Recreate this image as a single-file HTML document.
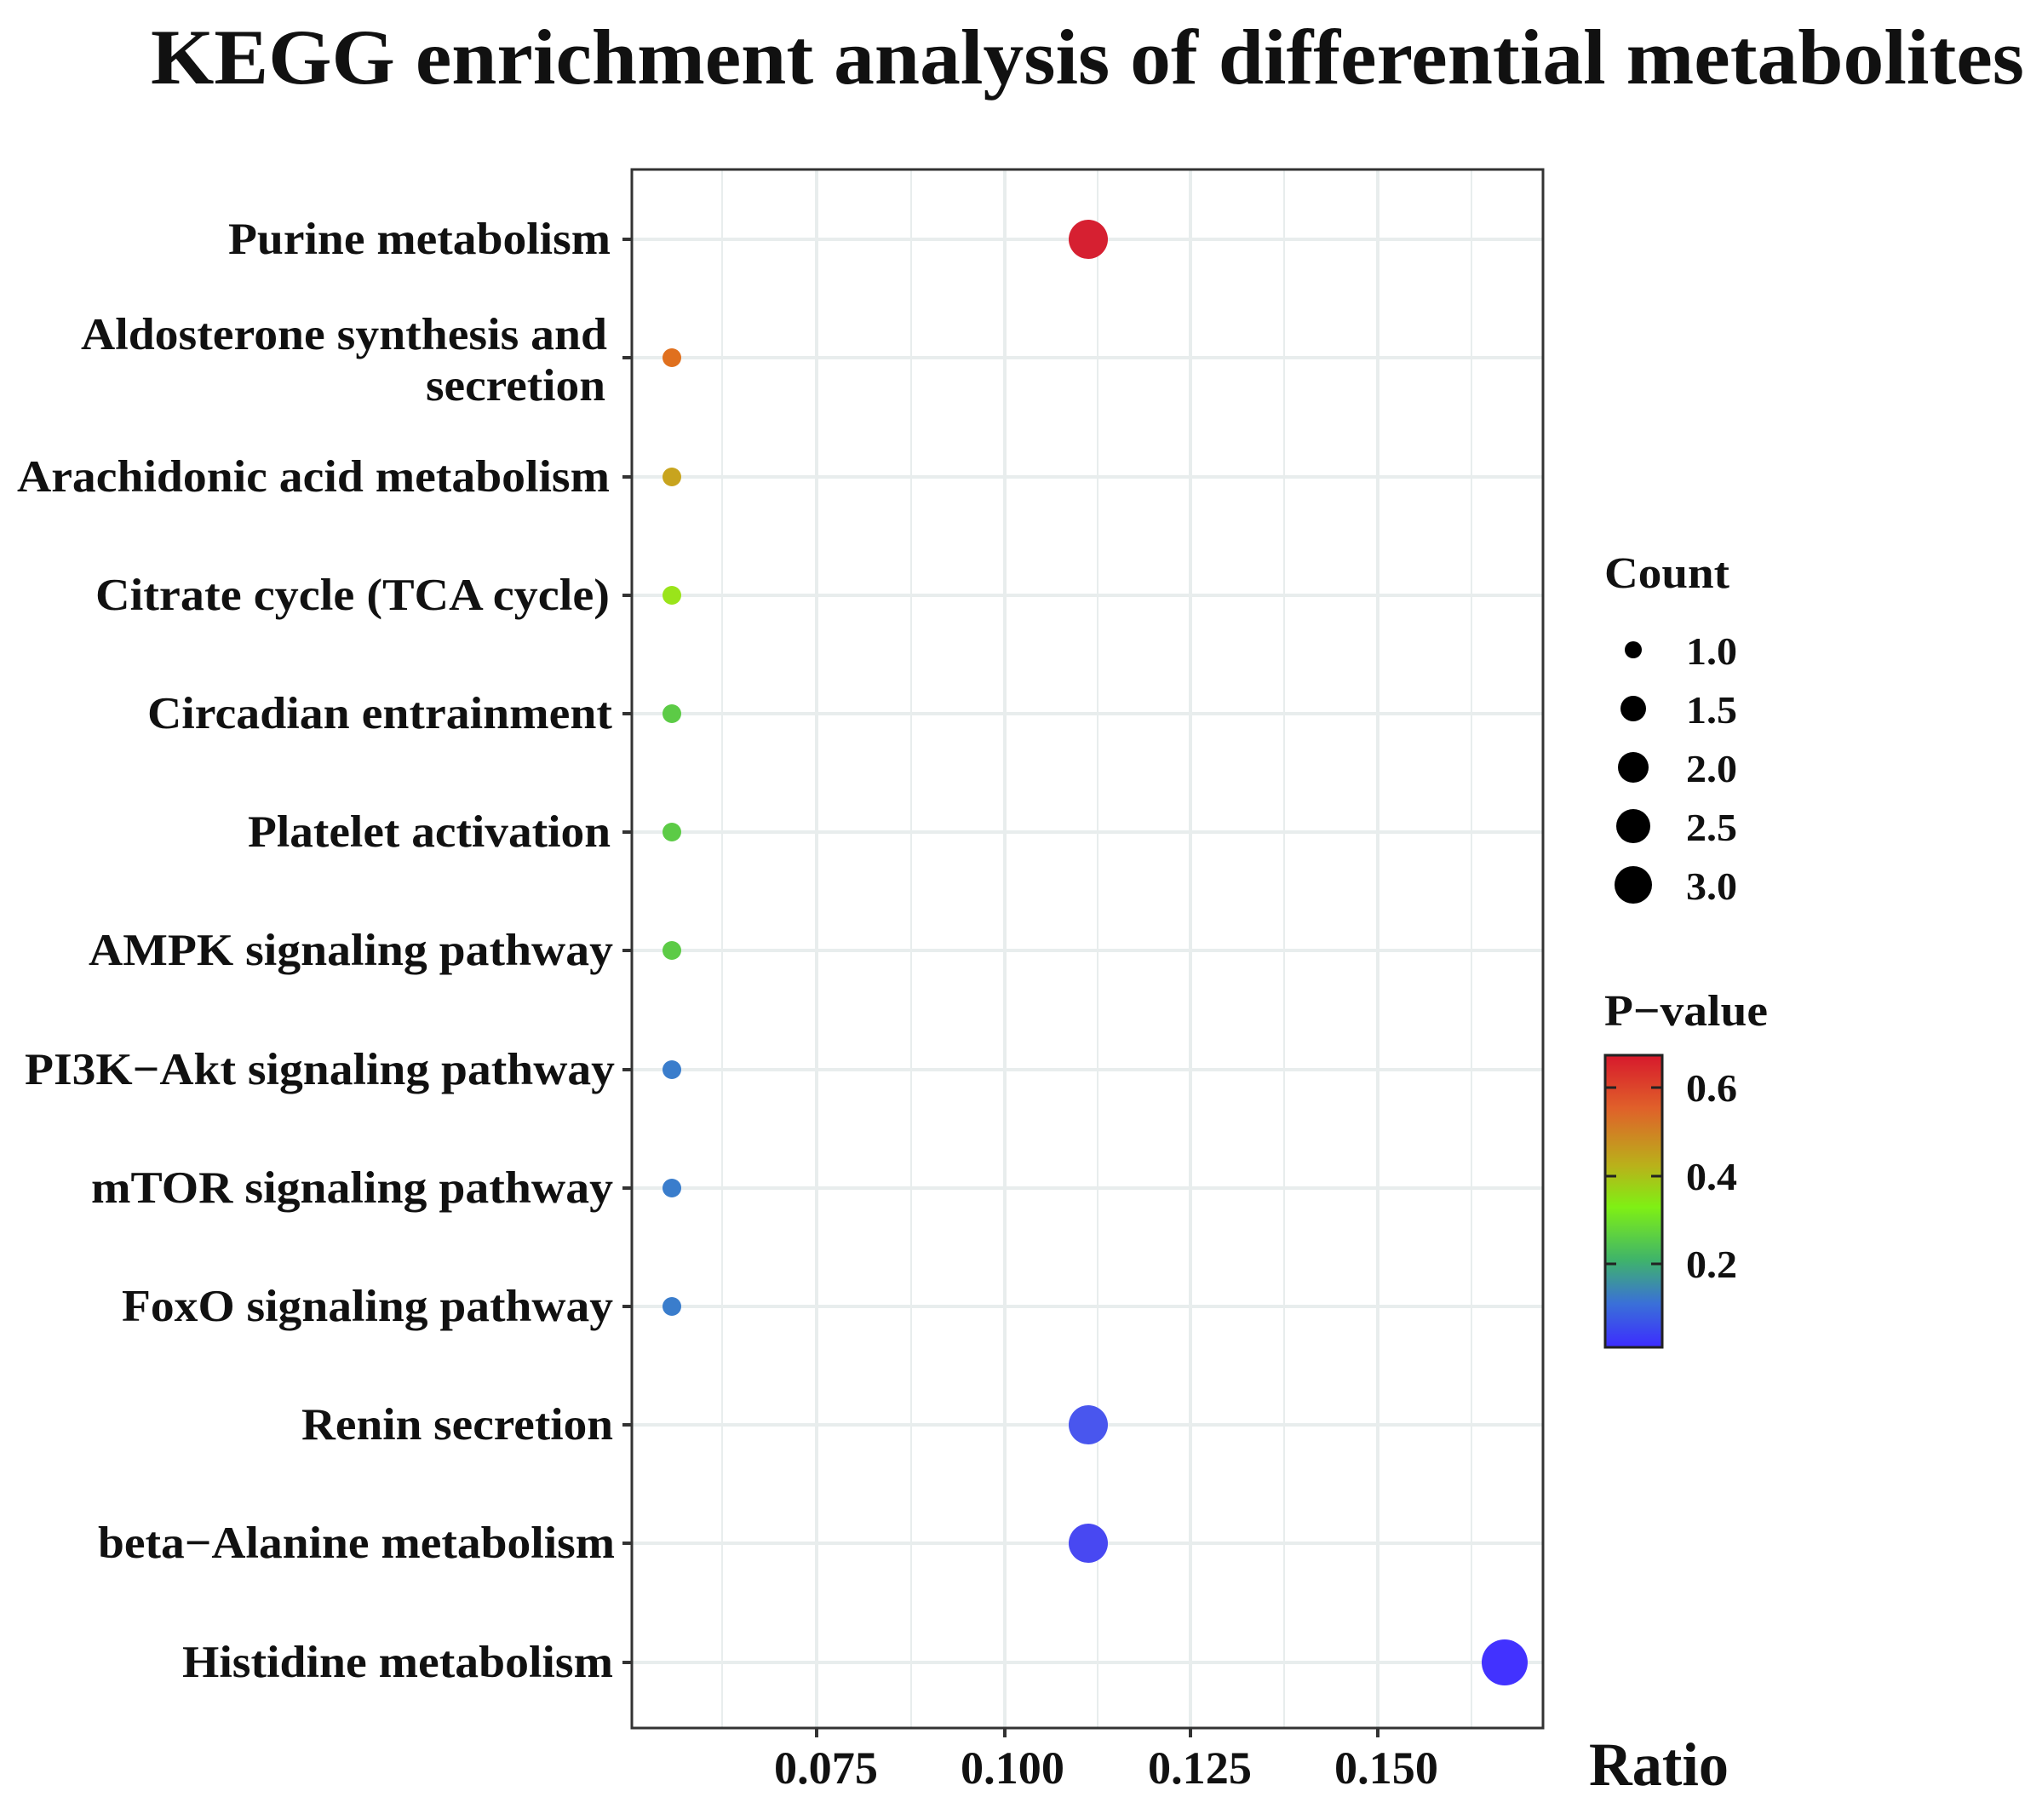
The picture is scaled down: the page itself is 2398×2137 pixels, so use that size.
<!DOCTYPE html>
<html><head><meta charset="utf-8"><style>
html,body{margin:0;padding:0;background:#fff;}
svg{display:block;}
text{font-family:"Liberation Serif",serif;font-weight:bold;fill:#111;}
</style></head><body>
<svg width="2398" height="2137" viewBox="0 0 2398 2137" xmlns="http://www.w3.org/2000/svg">
<defs>
<linearGradient id="pg" x1="0" y1="0" x2="0" y2="1">
<stop offset="0" stop-color="#d7192c"/>
<stop offset="0.18" stop-color="#e0602a"/>
<stop offset="0.38" stop-color="#b9b21a"/>
<stop offset="0.52" stop-color="#7ff014"/>
<stop offset="0.7" stop-color="#3fb46a"/>
<stop offset="0.85" stop-color="#3a70d8"/>
<stop offset="1" stop-color="#3c2cff"/>
</linearGradient>
</defs>
<text x="1277" y="98" font-size="92" text-anchor="middle" textLength="2200" lengthAdjust="spacingAndGlyphs">KEGG enrichment analysis of differential metabolites</text>

<g stroke="#e8eded">
<g stroke-width="2">
<line x1="848" y1="198" x2="848" y2="2029"/><line x1="1070" y1="198" x2="1070" y2="2029"/>
<line x1="1289" y1="198" x2="1289" y2="2029"/><line x1="1508" y1="198" x2="1508" y2="2029"/>
<line x1="1728" y1="198" x2="1728" y2="2029"/>
</g>
<g stroke-width="4">
<line x1="959" y1="198" x2="959" y2="2029"/><line x1="1180" y1="198" x2="1180" y2="2029"/>
<line x1="1398" y1="198" x2="1398" y2="2029"/><line x1="1618" y1="198" x2="1618" y2="2029"/>
<line x1="741" y1="281" x2="1812" y2="281"/><line x1="741" y1="420" x2="1812" y2="420"/>
<line x1="741" y1="560" x2="1812" y2="560"/><line x1="741" y1="699" x2="1812" y2="699"/>
<line x1="741" y1="838" x2="1812" y2="838"/><line x1="741" y1="977" x2="1812" y2="977"/>
<line x1="741" y1="1116" x2="1812" y2="1116"/><line x1="741" y1="1256" x2="1812" y2="1256"/>
<line x1="741" y1="1395" x2="1812" y2="1395"/><line x1="741" y1="1534" x2="1812" y2="1534"/>
<line x1="741" y1="1673" x2="1812" y2="1673"/><line x1="741" y1="1812" x2="1812" y2="1812"/>
<line x1="741" y1="1952" x2="1812" y2="1952"/>
</g>
</g>
<rect x="742" y="199" width="1070" height="1830" fill="none" stroke="#333" stroke-width="3"/>

<g stroke="#333" stroke-width="4">
<line x1="731" y1="281" x2="741" y2="281"/><line x1="731" y1="420" x2="741" y2="420"/>
<line x1="731" y1="560" x2="741" y2="560"/><line x1="731" y1="699" x2="741" y2="699"/>
<line x1="731" y1="838" x2="741" y2="838"/><line x1="731" y1="977" x2="741" y2="977"/>
<line x1="731" y1="1116" x2="741" y2="1116"/><line x1="731" y1="1256" x2="741" y2="1256"/>
<line x1="731" y1="1395" x2="741" y2="1395"/><line x1="731" y1="1534" x2="741" y2="1534"/>
<line x1="731" y1="1673" x2="741" y2="1673"/><line x1="731" y1="1812" x2="741" y2="1812"/>
<line x1="731" y1="1952" x2="741" y2="1952"/>
<line x1="959" y1="2029" x2="959" y2="2040"/><line x1="1180" y1="2029" x2="1180" y2="2040"/>
<line x1="1398" y1="2029" x2="1398" y2="2040"/><line x1="1618" y1="2029" x2="1618" y2="2040"/>
</g>

<g font-size="53" text-anchor="end">
<text x="717" y="298" textLength="449" lengthAdjust="spacingAndGlyphs">Purine metabolism</text>
<text x="713" y="410" textLength="618" lengthAdjust="spacingAndGlyphs">Aldosterone synthesis and</text>
<text x="711" y="470" textLength="211" lengthAdjust="spacingAndGlyphs">secretion</text>
<text x="716" y="577" textLength="696" lengthAdjust="spacingAndGlyphs">Arachidonic acid metabolism</text>
<text x="716" y="716" textLength="604" lengthAdjust="spacingAndGlyphs">Citrate cycle (TCA cycle)</text>
<text x="719" y="855" textLength="546" lengthAdjust="spacingAndGlyphs">Circadian entrainment</text>
<text x="717" y="994" textLength="426" lengthAdjust="spacingAndGlyphs">Platelet activation</text>
<text x="720" y="1133" textLength="616" lengthAdjust="spacingAndGlyphs">AMPK signaling pathway</text>
<text x="722" y="1273" textLength="693" lengthAdjust="spacingAndGlyphs">PI3K−Akt signaling pathway</text>
<text x="720" y="1412" textLength="613" lengthAdjust="spacingAndGlyphs">mTOR signaling pathway</text>
<text x="720" y="1551" textLength="577" lengthAdjust="spacingAndGlyphs">FoxO signaling pathway</text>
<text x="720" y="1690" textLength="366" lengthAdjust="spacingAndGlyphs">Renin secretion</text>
<text x="722" y="1829" textLength="607" lengthAdjust="spacingAndGlyphs">beta−Alanine metabolism</text>
<text x="720" y="1969" textLength="506" lengthAdjust="spacingAndGlyphs">Histidine metabolism</text>
</g>

<g font-size="54" text-anchor="middle">
<text x="970" y="2094" textLength="122" lengthAdjust="spacingAndGlyphs">0.075</text>
<text x="1189" y="2094" textLength="122" lengthAdjust="spacingAndGlyphs">0.100</text>
<text x="1409" y="2094" textLength="122" lengthAdjust="spacingAndGlyphs">0.125</text>
<text x="1628" y="2094" textLength="122" lengthAdjust="spacingAndGlyphs">0.150</text>
</g>
<text x="1866" y="2096" font-size="72" textLength="164" lengthAdjust="spacingAndGlyphs">Ratio</text>

<circle cx="1278" cy="281" r="23" fill="#d62031"/>
<circle cx="789" cy="420" r="11" fill="#e0701e"/>
<circle cx="789" cy="560" r="11" fill="#c8a41e"/>
<circle cx="789" cy="699" r="11" fill="#9ae41a"/>
<circle cx="789" cy="838" r="11" fill="#5ccb46"/>
<circle cx="789" cy="977" r="11" fill="#5ccb46"/>
<circle cx="789" cy="1116" r="11" fill="#5ccb46"/>
<circle cx="789" cy="1256" r="11" fill="#3a7dcc"/>
<circle cx="789" cy="1395" r="11" fill="#3a7dcc"/>
<circle cx="789" cy="1534" r="11" fill="#3a7dcc"/>
<circle cx="1278" cy="1673" r="23" fill="#4956ee"/>
<circle cx="1278" cy="1812" r="23" fill="#4848f2"/>
<circle cx="1767" cy="1952" r="27" fill="#4232ff"/>

<text x="1884" y="690" font-size="52" textLength="147" lengthAdjust="spacingAndGlyphs">Count</text>
<g fill="#000">
<circle cx="1918" cy="763" r="10"/>
<circle cx="1918" cy="832" r="15"/>
<circle cx="1918" cy="901" r="18"/>
<circle cx="1918" cy="970" r="20"/>
<circle cx="1918" cy="1039" r="22"/>
</g>
<g font-size="46">
<text x="1980" y="780" textLength="60" lengthAdjust="spacingAndGlyphs">1.0</text>
<text x="1980" y="849" textLength="60" lengthAdjust="spacingAndGlyphs">1.5</text>
<text x="1980" y="918" textLength="60" lengthAdjust="spacingAndGlyphs">2.0</text>
<text x="1980" y="987" textLength="60" lengthAdjust="spacingAndGlyphs">2.5</text>
<text x="1980" y="1056" textLength="60" lengthAdjust="spacingAndGlyphs">3.0</text>
</g>
<text x="1884" y="1204" font-size="52" textLength="192" lengthAdjust="spacingAndGlyphs">P−value</text>
<rect x="1885" y="1239" width="67" height="343" fill="url(#pg)" stroke="#222" stroke-width="3"/>
<g stroke="#222" stroke-width="3">
<line x1="1886" y1="1277" x2="1898" y2="1277"/><line x1="1939" y1="1277" x2="1951" y2="1277"/>
<line x1="1886" y1="1381" x2="1898" y2="1381"/><line x1="1939" y1="1381" x2="1951" y2="1381"/>
<line x1="1886" y1="1484" x2="1898" y2="1484"/><line x1="1939" y1="1484" x2="1951" y2="1484"/>
</g>
<g font-size="46">
<text x="1980" y="1293" textLength="60" lengthAdjust="spacingAndGlyphs">0.6</text>
<text x="1980" y="1397" textLength="60" lengthAdjust="spacingAndGlyphs">0.4</text>
<text x="1980" y="1500" textLength="60" lengthAdjust="spacingAndGlyphs">0.2</text>
</g>
</svg>
</body></html>
